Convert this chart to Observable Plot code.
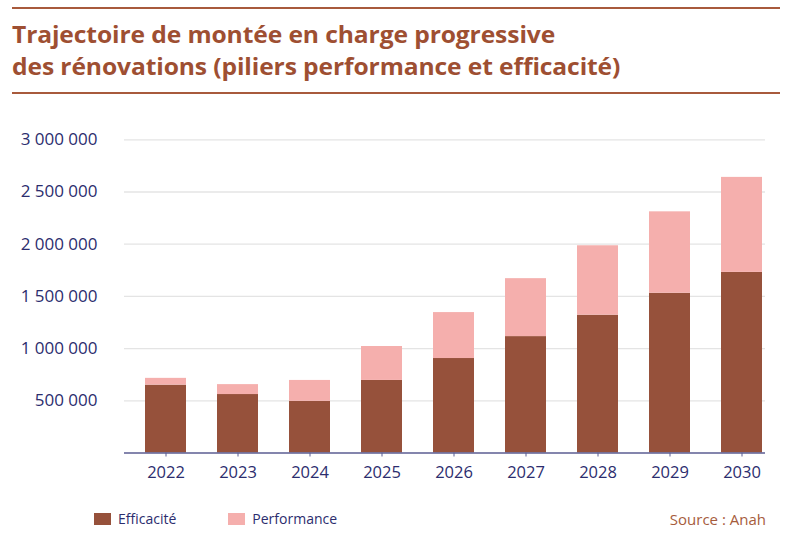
<!DOCTYPE html>
<html>
<head>
<meta charset="utf-8">
<script src="https://cdn.jsdelivr.net/npm/d3@7"></script>
<script src="https://cdn.jsdelivr.net/npm/@observablehq/plot@0.6"></script>
<style>
  html, body { margin: 0; padding: 0; background: #fff; }
  #wrap { position: relative; width: 791px; height: 543px; font-family: "Open Sans", sans-serif; }
  .rule { position: absolute; left: 12px; width: 768px; height: 2px; background: #a85a3c; }
  #title { position: absolute; left: 12px; top: 18px; margin: 0; font-family: "Open Sans", sans-serif; font-size: 23px; font-weight: 700; line-height: 32px; color: #9e4f32; white-space: nowrap; transform-origin: 0 0; transform: scaleX(1.07); letter-spacing: -0.1px; }
  #chart { position: absolute; left: 0; top: 110px; }
  #legend { position: absolute; left: 94px; top: 509px; display: flex; align-items: center; font-size: 14px; font-weight: 500; color: #2c2d6e; }
  .item { display: flex; align-items: center; margin-right: 52px; }
  .sw { width: 17px; height: 12px; margin-right: 7px; }
  #source { position: absolute; right: 25px; top: 509px; font-size: 15px; color: #a65c3c; }
</style>
</head>
<body>
<div id="wrap">
  <div class="rule" style="top:7px"></div>
  <h1 id="title">Trajectoire de montée en charge progressive<br>des rénovations (piliers performance et efficacité)</h1>
  <div class="rule" style="top:92px"></div>
  <div id="chart"></div>
  <div id="legend"></div>
  <div id="source">Source : Anah</div>
</div>
<script>
const years = ["2022", "2023", "2024", "2025", "2026", "2027", "2028", "2029", "2030"];
const efficacite = [650000, 560000, 495000, 695000, 905000, 1115000, 1320000, 1530000, 1730000];
const performance = [65000, 95000, 200000, 325000, 440000, 555000, 665000, 780000, 910000];
const seriesNames = ["Efficacité", "Performance"];
const seriesColors = ["#96513b", "#f5afad"];
const yTicks = [500000, 1000000, 1500000, 2000000, 2500000, 3000000];

const navy = "#2c2d6e";
const rows = [];
years.forEach((y, i) => rows.push({year: y, serie: seriesNames[0], value: efficacite[i]}));
years.forEach((y, i) => rows.push({year: y, serie: seriesNames[1], value: performance[i]}));

const fmt = v => d3.format(",")(v).replace(/,/g, " ");

const chart = Plot.plot({
  width: 791,
  height: 380,
  marginLeft: 124,
  marginRight: 26,
  marginTop: 29.3,
  marginBottom: 37.5,
  style: {fontFamily: "'Open Sans', sans-serif", fontWeight: 500, background: "transparent"},
  x: {type: "band", domain: years, range: [143, 764], paddingInner: 0.434, paddingOuter: 0, label: null},
  y: {domain: [0, 3000000], label: null},
  color: {domain: seriesNames, range: seriesColors},
  marks: [
    Plot.gridY(yTicks, {stroke: "#e4e4e4", strokeOpacity: 1, strokeWidth: 1.3}),
    Plot.barY(rows, {x: "year", y: "value", fill: "serie", order: seriesNames}),
    Plot.ruleY([0], {stroke: "#5b5c92", strokeWidth: 1.6}),
    Plot.axisX({tickSize: 4, tickPadding: 9, fontSize: 16.5, fill: navy, stroke: "#5b5c92", label: null}),
    Plot.axisY({ticks: yTicks, tickSize: 0, tickPadding: 27, tickFormat: fmt, fontSize: 17, fill: navy, label: null})
  ]
});
document.getElementById("chart").appendChild(chart);

const legend = document.getElementById("legend");
seriesNames.forEach((n, i) => {
  const it = document.createElement("div");
  it.className = "item";
  const sw = document.createElement("span");
  sw.className = "sw";
  sw.style.background = seriesColors[i];
  const t = document.createElement("span");
  t.textContent = n;
  it.appendChild(sw);
  it.appendChild(t);
  legend.appendChild(it);
});
</script>
</body>
</html>
